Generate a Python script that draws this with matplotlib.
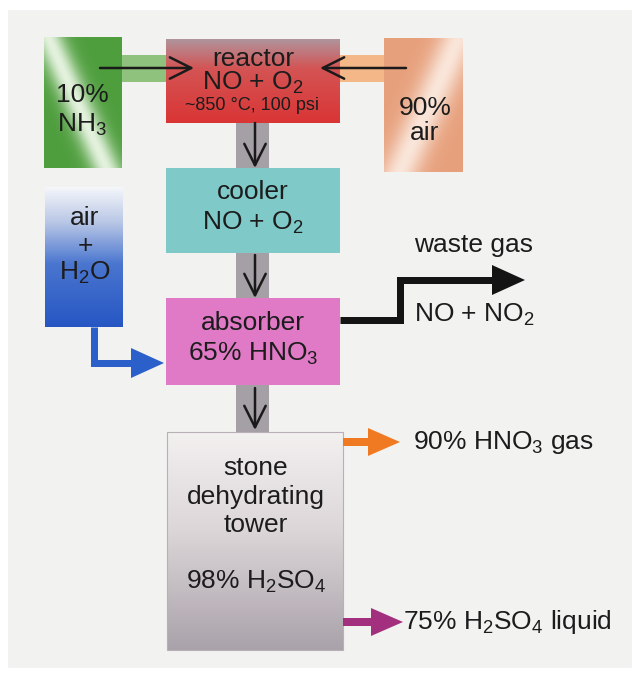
import numpy as np
import matplotlib
matplotlib.use("Agg")
import matplotlib.pyplot as plt
from matplotlib.colors import to_rgb
from matplotlib.patches import Rectangle, Polygon

plt.rcParams['font.family'] = ['Liberation Sans', 'DejaVu Sans']
plt.rcParams['mathtext.fontset'] = 'custom'
plt.rcParams['mathtext.rm'] = 'Liberation Sans'
plt.rcParams['mathtext.it'] = 'Liberation Sans'
plt.rcParams['mathtext.bf'] = 'Liberation Sans:bold'
plt.rcParams['mathtext.default'] = 'regular'

# ---- labels ----
nh3_lines = ["10%", "NH$_3$"]
air_lines = ["90%", "air"]
airh2o_lines = ["air", "+", "H$_2$O"]
reactor_lines = ["reactor", "NO + O$_2$"]
reactor_cond = "~850 °C, 100 psi"
cooler_lines = ["cooler", "NO + O$_2$"]
absorber_lines = ["absorber", "65% HNO$_3$"]
tower_lines = ["stone", "dehydrating", "tower"]
tower_acid = "98% H$_2$SO$_4$"
waste_lines = ["waste gas", "NO + NO$_2$"]
out_gas = "90% HNO$_3$ gas"
out_liquid = "75% H$_2$SO$_4$ liquid"

TXT = '#1c1c1c'
FS = 19

fig = plt.figure(figsize=(6.39, 6.77), dpi=100)
ax = fig.add_axes([0, 0, 1, 1])
ax.set_xlim(0, 639)
ax.set_ylim(677, 0)
ax.axis('off')
fig.patch.set_facecolor('white')

# panel background
ax.add_patch(Rectangle((8, 10), 624, 658, facecolor='#f2f2f0', edgecolor='none', zorder=0))


def grad_img(x0, x1, y0, y1, func, z=2):
    h, w = 120, 80
    yy, xx = np.mgrid[0:1:h * 1j, 0:1:w * 1j]
    img = func(xx, yy)
    ax.imshow(img, extent=(x0, x1, y1, y0), aspect='auto', zorder=z,
              interpolation='bilinear')


def blend(c1, c2, t):
    c1 = np.array(to_rgb(c1)); c2 = np.array(to_rgb(c2))
    t = np.clip(t, 0, 1)[..., None]
    return c1 * (1 - t) + c2 * t


def vgrad(stops):
    pos = np.array([s[0] for s in stops])
    cols = np.array([to_rgb(s[1]) for s in stops])
    def f(xx, yy):
        out = np.zeros(yy.shape + (3,))
        for k in range(3):
            out[..., k] = np.interp(yy, pos, cols[:, k])
        return out
    return f


def streak(base, light, direction=1, width=0.18, amount=0.85):
    def f(xx, yy):
        if direction == 1:
            d = (xx - yy * 0.75 - 0.05)
        else:
            d = (xx + yy * 0.75 - 0.95)
        t = amount * np.exp(-(d / width) ** 2)
        return blend(base, light, t)
    return f


# gray vertical conveyor band
ax.add_patch(Rectangle((236, 118), 33, 316, facecolor='#a59fa6', edgecolor='none', zorder=1))
# side bands into the reactor
ax.add_patch(Rectangle((122, 55), 46, 27, facecolor='#8fc27c', edgecolor='none', zorder=1))
ax.add_patch(Rectangle((338, 55), 48, 27, facecolor='#f4b888', edgecolor='none', zorder=1))

# boxes
grad_img(44, 122, 37, 168, streak('#4f9e3e', '#f4fbef', 1, 0.2, 0.9))
grad_img(384, 463, 38, 172, streak('#e7a07c', '#fdf2ea', -1, 0.25, 0.85))
grad_img(45, 123, 187, 327, vgrad([(0, '#f4f6fa'), (0.25, '#b9c7e6'), (0.55, '#4a76cf'), (1, '#2656c3')]))
grad_img(166, 340, 39, 123, vgrad([(0, '#b0949c'), (0.35, '#d45454'), (1, '#da3535')]))
ax.add_patch(Rectangle((166, 168), 174, 85, facecolor='#80c9c9', edgecolor='none', zorder=2))
ax.add_patch(Rectangle((166, 298), 174, 87, facecolor='#e07ac6', edgecolor='none', zorder=2))
grad_img(167, 343, 432, 650, vgrad([(0, '#f3f0f0'), (0.45, '#dcd6d8'), (1, '#aaa2aa')]))
ax.add_patch(Rectangle((167, 432), 176, 218, facecolor='none', edgecolor='#b8b0b6', lw=0.8, zorder=3))


def thin_arrow(x0, y0, x1, y1):
    ax.annotate('', xy=(x1, y1), xytext=(x0, y0),
                arrowprops=dict(arrowstyle='->,head_length=0.7,head_width=0.35',
                                lw=1.8, color='#1a1a1a', mutation_scale=22,
                                shrinkA=0, shrinkB=0), zorder=5)


thin_arrow(100, 68, 194, 68)
thin_arrow(406, 68, 320, 68)
thin_arrow(255, 123, 255, 168)
thin_arrow(255, 255, 255, 298)
thin_arrow(255, 388, 255, 430)


def thick_arrow(pts, color, lw_px, head_len, head_half):
    pts = np.array(pts, dtype=float)
    tip = pts[-1]
    prev = pts[-2]
    v = tip - prev
    v = v / np.hypot(*v)
    base = tip - v * head_len
    path = np.vstack([pts[:-1], base])
    ax.plot(path[:, 0], path[:, 1], color=color, lw=lw_px * 0.72,
            solid_capstyle='butt', solid_joinstyle='miter', zorder=4)
    n = np.array([-v[1], v[0]])
    ax.add_patch(Polygon([tip, base + n * head_half, base - n * head_half],
                         closed=True, facecolor=color, edgecolor='none', zorder=4))


thick_arrow([(340, 320), (400, 320), (400, 280), (525, 280)], '#141414', 7, 33, 15)
thick_arrow([(94, 327), (94, 363), (164, 363)], '#2b5fc9', 7, 33, 15)
thick_arrow([(343, 442), (400, 442)], '#f07a22', 8, 32, 14)
thick_arrow([(343, 622), (403, 622)], '#a3307f', 8, 32, 14)


def t(x, y, s, size=FS, ha='center'):
    ax.text(x, y, s, fontsize=size, color=TXT, ha=ha, va='center', zorder=6)


t(82, 95, nh3_lines[0]); t(82, 125, nh3_lines[1])
t(425, 108, air_lines[0]); t(425, 133, air_lines[1])
t(85, 218, airh2o_lines[0]); t(85, 246, airh2o_lines[1]); t(85, 273, airh2o_lines[2])
t(253, 59, reactor_lines[0]); t(253, 83, reactor_lines[1])
t(252, 106, reactor_cond, size=13)
t(253, 192, cooler_lines[0]); t(253, 223, cooler_lines[1])
t(253, 323, absorber_lines[0]); t(253, 354, absorber_lines[1])
t(256, 468, tower_lines[0]); t(256, 497, tower_lines[1]); t(256, 525, tower_lines[2])
t(256, 582, tower_acid)
t(414, 245, waste_lines[0], ha='left'); t(414, 315, waste_lines[1], ha='left')
t(413, 442, out_gas, ha='left')
t(403, 622, out_liquid, ha='left')

fig.savefig('out.png', dpi=100, facecolor='white')
